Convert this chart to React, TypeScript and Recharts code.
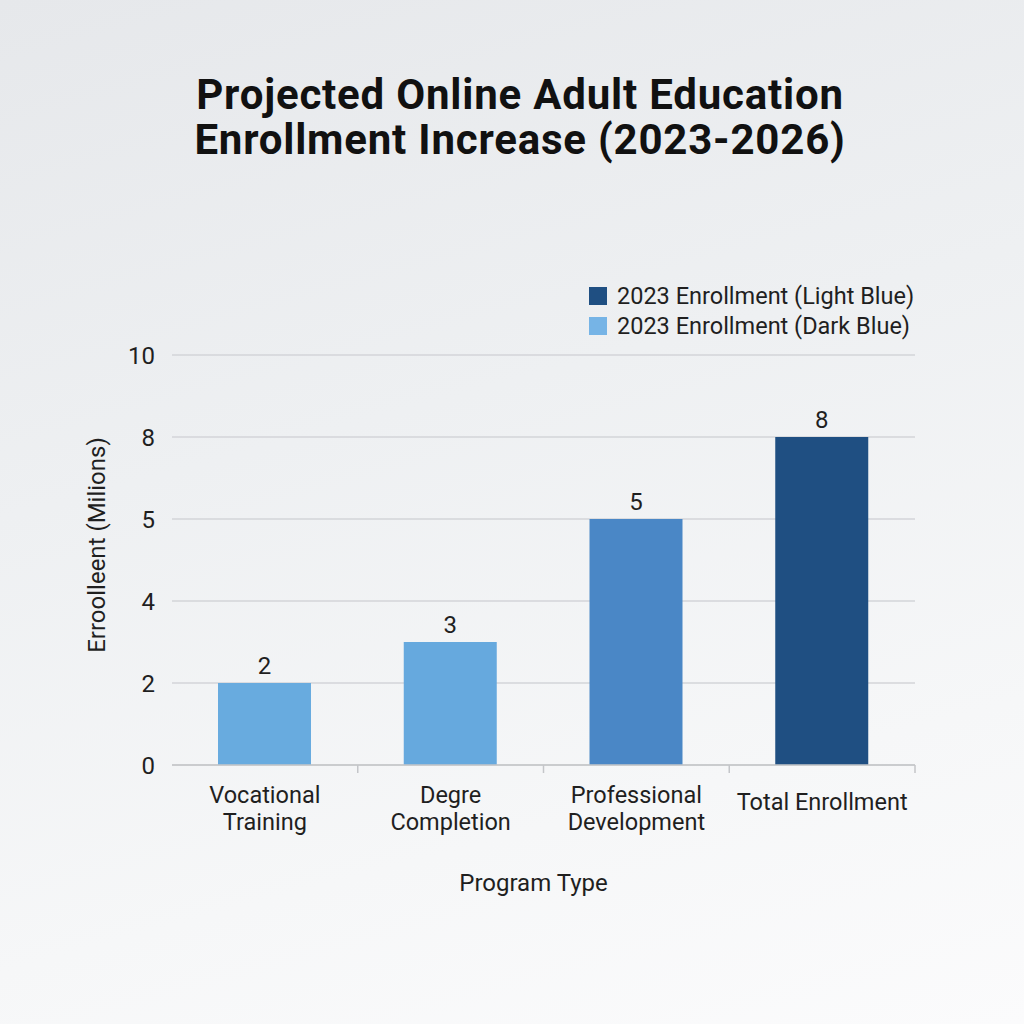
import React from 'react';
import { BarChart, Bar, XAxis, YAxis, CartesianGrid, Cell, LabelList, Legend, Label } from 'recharts';

const programs = ['Vocational\nTraining', 'Degre\nCompletion', 'Professional\nDevelopment', 'Total Enrollment'];
const enrollment = [2, 3, 5, 8];
const barColors = ['#68abdf', '#66a9de', '#4a87c6', '#1f4f82'];
const yTicks = [0, 2, 4, 5, 8, 10];
const legendItems = [
  { label: '2023 Enrollment (Light Blue)', color: '#1f4f82' },
  { label: '2023 Enrollment (Dark Blue)', color: '#76b4e6' },
];

const chartData = programs.map((name, i) => ({ name, value: enrollment[i] }));

const FONT = 'Roboto, "Open Sans", sans-serif';
const INK = '#1f1f1f';

// Stepped y scale: every tick value sits on an evenly spaced gridline and
// values between two ticks are placed linearly inside that step.
function createSteppedScale(): any {
  let domain: number[] = [yTicks[0], yTicks[yTicks.length - 1]];
  let range: number[] = [0, 1];
  const steps = yTicks.length - 1;
  const scale: any = (v: number) => {
    if (typeof v !== 'number' || Number.isNaN(v)) return NaN;
    let i = 0;
    while (i < steps - 1 && v > yTicks[i + 1]) i++;
    const t = (v - yTicks[i]) / (yTicks[i + 1] - yTicks[i]);
    return range[0] + ((i + t) / steps) * (range[1] - range[0]);
  };
  scale.domain = (d?: number[]) => {
    if (d === undefined) return domain;
    domain = d;
    return scale;
  };
  scale.range = (r?: number[]) => {
    if (r === undefined) return range;
    range = r;
    return scale;
  };
  scale.copy = () => createSteppedScale().domain(domain).range(range);
  scale.ticks = () => yTicks;
  return scale;
}

const steppedScale = createSteppedScale();

const CategoryTick = (props: any) => {
  const { x, y, payload } = props;
  const lines = String(payload.value).split('\n');
  const half = payload.offset ?? 0;
  const firstDy = lines.length === 1 ? 45 : 38;
  return (
    <g>
      <line x1={x + half} x2={x + half} y1={y} y2={y + 8} stroke="#c4c6c9" strokeWidth={1.5} />
      <text x={x} y={y} textAnchor="middle" fontSize={23.5} fill={INK} fontFamily={FONT}>
        {lines.map((line, i) => (
          <tspan key={line} x={x} dy={i === 0 ? firstDy : 27}>
            {line}
          </tspan>
        ))}
      </text>
    </g>
  );
};

const renderLegend = () => (
  <div style={{ fontFamily: FONT }}>
    {legendItems.map((item) => (
      <div key={item.label} style={{ display: 'flex', alignItems: 'center', height: 30, whiteSpace: 'nowrap' }}>
        <span style={{ width: 18, height: 18, background: item.color, marginRight: 10, display: 'inline-block' }} />
        <span style={{ fontSize: 23.5, color: INK }}>{item.label}</span>
      </div>
    ))}
  </div>
);

const App: React.FC = () => {
  return (
    <div
      style={{
        position: 'absolute',
        top: 0,
        left: 0,
        width: 1024,
        height: 1024,
        overflow: 'hidden',
        background: 'linear-gradient(165deg, #e6e8eb 0%, #eef0f2 40%, #f6f7f8 75%, #fbfbfc 100%)',
      }}
    >
      <div
        style={{
          position: 'absolute',
          top: 72,
          left: 0,
          width: 1040,
          textAlign: 'center',
          fontFamily: FONT,
          fontWeight: 700,
          fontSize: 42,
          lineHeight: '45px',
          color: '#111',
          letterSpacing: 0.8,
        }}
      >
        Projected Online Adult Education
        <br />
        Enrollment Increase (2023-2026)
      </div>
      <BarChart
        width={1024}
        height={1024}
        data={chartData}
        margin={{ top: 355, right: 109, bottom: 189, left: 112 }}
        style={{ position: 'absolute', top: 0, left: 0 }}
      >
        <CartesianGrid vertical={false} stroke="#d3d5d8" strokeWidth={1.5} />
        <XAxis
          dataKey="name"
          height={70}
          interval={0}
          tickSize={0}
          tickMargin={0}
          tickLine={false}
          axisLine={{ stroke: '#c4c6c9', strokeWidth: 1.5 }}
          tick={<CategoryTick />}
        >
          <Label
            content={({ viewBox }: any) => (
              <text
                x={viewBox.x + viewBox.width / 2 - 10}
                y={viewBox.y + 126}
                textAnchor="middle"
                fontSize={24}
                fill={INK}
                fontFamily={FONT}
              >
                Program Type
              </text>
            )}
          />
        </XAxis>
        <YAxis
          type="number"
          scale={steppedScale}
          domain={[0, 10]}
          ticks={yTicks}
          interval={0}
          width={60}
          axisLine={false}
          tickLine={false}
          tickMargin={11}
          tick={{ fontSize: 24, fill: INK, fontFamily: FONT }}
        >
          <Label
            content={({ viewBox }: any) => {
              const cx = viewBox.x - 15;
              const cy = viewBox.y + viewBox.height / 2 - 15;
              return (
                <text
                  x={cx}
                  y={cy}
                  transform={`rotate(-90, ${cx}, ${cy})`}
                  textAnchor="middle"
                  dominantBaseline="central"
                  fontSize={24}
                  fill={INK}
                  fontFamily={FONT}
                >
                  Erroolleent (Milions)
                </text>
              );
            }}
          />
        </YAxis>
        <Legend
          layout="horizontal"
          align="center"
          verticalAlign="middle"
          content={renderLegend}
          wrapperStyle={{ top: 281, left: 589, width: 'auto' }}
        />
        <Bar dataKey="value" barSize={93} isAnimationActive={false}>
          {chartData.map((entry, i) => (
            <Cell key={entry.name} fill={barColors[i]} />
          ))}
          <LabelList
            dataKey="value"
            position="top"
            offset={9}
            style={{ fontSize: 24, fill: INK, fontFamily: FONT }}
          />
        </Bar>
      </BarChart>
    </div>
  );
};

export default App;
